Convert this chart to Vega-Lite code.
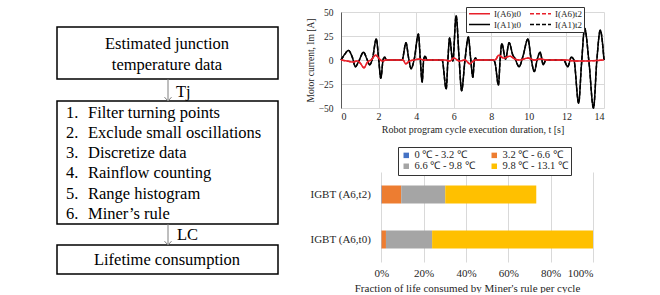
{
  "$schema": "https://vega.github.io/schema/vega-lite/v6.json",
  "background": "white",
  "padding": {"left": 0, "top": 6, "right": 0, "bottom": 0},
  "config": {
    "font": "Liberation Serif",
    "view": {"stroke": null},
    "text": {"font": "Liberation Serif"},
    "axis": {"labelColor": "#262626", "titleColor": "#262626", "titleFontWeight": "normal", "gridColor": "#d9d9d9", "ticks": false, "labelFont": "Liberation Serif", "titleFont": "Liberation Serif"},
    "legend": {"labelColor": "#262626", "labelFont": "Liberation Serif"}
  },
  "resolve": {"scale": {"color": "independent", "strokeDash": "independent", "x": "independent", "y": "independent"}, "legend": {"color": "independent", "strokeDash": "independent"}},
  "datasets": {
    "boxes": [
      {"x1": 57, "x2": 278, "y1": 21, "y2": 73},
      {"x1": 57, "x2": 278, "y1": 95, "y2": 218},
      {"x1": 57, "x2": 278, "y1": 239, "y2": 268}
    ],
    "centerText": [
      {"x": 167, "y": 38, "text": "Estimated junction"},
      {"x": 167, "y": 59, "text": "temperature data"},
      {"x": 167, "y": 254, "text": "Lifetime consumption"}
    ],
    "leftText": [
      {"x": 66, "y": 107, "text": "1."}, {"x": 88, "y": 107, "text": "Filter turning points"},
      {"x": 66, "y": 127, "text": "2."}, {"x": 88, "y": 127, "text": "Exclude small oscillations"},
      {"x": 66, "y": 147, "text": "3."}, {"x": 88, "y": 147, "text": "Discretize data"},
      {"x": 66, "y": 167, "text": "4."}, {"x": 88, "y": 167, "text": "Rainflow counting"},
      {"x": 66, "y": 188, "text": "5."}, {"x": 88, "y": 188, "text": "Range histogram"},
      {"x": 66, "y": 208, "text": "6."}, {"x": 88, "y": 208, "text": "Miner’s rule"},
      {"x": 176, "y": 86, "text": "Tj"},
      {"x": 177, "y": 229, "text": "LC"}
    ],
    "arrows": [
      {"x": 168, "y1": 73, "y2": 95},
      {"x": 168, "y1": 218, "y2": 239}
    ],
    "a1": [
      {"t": 0, "I(A1)t0": 0, "I(A1)t2": 0}, {"t": 0.2, "I(A1)t0": 6, "I(A1)t2": 6}, {"t": 0.4, "I(A1)t0": 10, "I(A1)t2": 10},
      {"t": 0.6, "I(A1)t0": 3, "I(A1)t2": 3}, {"t": 0.77, "I(A1)t0": -7, "I(A1)t2": -7}, {"t": 0.95, "I(A1)t0": -1, "I(A1)t2": -1},
      {"t": 1.2, "I(A1)t0": 8, "I(A1)t2": 8}, {"t": 1.38, "I(A1)t0": 1, "I(A1)t2": 1}, {"t": 1.53, "I(A1)t0": -5, "I(A1)t2": -5},
      {"t": 1.68, "I(A1)t0": 2, "I(A1)t2": 2}, {"t": 1.88, "I(A1)t0": 22, "I(A1)t2": 22}, {"t": 2.0, "I(A1)t0": 2, "I(A1)t2": 2},
      {"t": 2.12, "I(A1)t0": -19, "I(A1)t2": -19}, {"t": 2.24, "I(A1)t0": 0, "I(A1)t2": 0}, {"t": 2.32, "I(A1)t0": 3, "I(A1)t2": 3},
      {"t": 2.42, "I(A1)t0": 0, "I(A1)t2": 0}, {"t": 3.25, "I(A1)t0": 0, "I(A1)t2": 0}, {"t": 3.46, "I(A1)t0": 18, "I(A1)t2": 18},
      {"t": 3.6, "I(A1)t0": 2, "I(A1)t2": 2}, {"t": 3.73, "I(A1)t0": -9, "I(A1)t2": -9}, {"t": 3.9, "I(A1)t0": 1, "I(A1)t2": 1},
      {"t": 4.12, "I(A1)t0": 27, "I(A1)t2": 27}, {"t": 4.22, "I(A1)t0": 1, "I(A1)t2": 1}, {"t": 4.32, "I(A1)t0": -23, "I(A1)t2": -23},
      {"t": 4.4, "I(A1)t0": 0, "I(A1)t2": 0}, {"t": 4.47, "I(A1)t0": 4, "I(A1)t2": 4}, {"t": 4.58, "I(A1)t0": 0, "I(A1)t2": 0},
      {"t": 5.38, "I(A1)t0": 0, "I(A1)t2": 0}, {"t": 5.6, "I(A1)t0": -30, "I(A1)t2": -30}, {"t": 5.69, "I(A1)t0": 0, "I(A1)t2": 0},
      {"t": 5.78, "I(A1)t0": 23, "I(A1)t2": 23}, {"t": 5.95, "I(A1)t0": -1, "I(A1)t2": -1}, {"t": 6.13, "I(A1)t0": 46, "I(A1)t2": 46},
      {"t": 6.28, "I(A1)t0": 4, "I(A1)t2": 4}, {"t": 6.42, "I(A1)t0": -32, "I(A1)t2": -32}, {"t": 6.6, "I(A1)t0": 0, "I(A1)t2": 0},
      {"t": 6.78, "I(A1)t0": 24, "I(A1)t2": 24}, {"t": 6.9, "I(A1)t0": 2, "I(A1)t2": 2}, {"t": 7.02, "I(A1)t0": -18, "I(A1)t2": -18},
      {"t": 7.1, "I(A1)t0": 0, "I(A1)t2": 0}, {"t": 7.16, "I(A1)t0": 2, "I(A1)t2": 2}, {"t": 7.25, "I(A1)t0": 0, "I(A1)t2": 0},
      {"t": 8.1, "I(A1)t0": 0, "I(A1)t2": 0}, {"t": 8.2, "I(A1)t0": -3, "I(A1)t2": -3}, {"t": 8.38, "I(A1)t0": -26, "I(A1)t2": -26},
      {"t": 8.47, "I(A1)t0": 0, "I(A1)t2": 0}, {"t": 8.56, "I(A1)t0": 17, "I(A1)t2": 17}, {"t": 8.76, "I(A1)t0": 1, "I(A1)t2": 1},
      {"t": 8.95, "I(A1)t0": 18, "I(A1)t2": 18}, {"t": 9.15, "I(A1)t0": 5, "I(A1)t2": 5}, {"t": 9.25, "I(A1)t0": 2, "I(A1)t2": 2},
      {"t": 9.48, "I(A1)t0": -7, "I(A1)t2": -7}, {"t": 9.7, "I(A1)t0": 5, "I(A1)t2": 5}, {"t": 9.95, "I(A1)t0": 22, "I(A1)t2": 22},
      {"t": 10.1, "I(A1)t0": 4, "I(A1)t2": 4}, {"t": 10.29, "I(A1)t0": -12, "I(A1)t2": -12}, {"t": 10.45, "I(A1)t0": 1, "I(A1)t2": 1},
      {"t": 10.6, "I(A1)t0": 8, "I(A1)t2": 8}, {"t": 10.77, "I(A1)t0": -5, "I(A1)t2": -5}, {"t": 10.9, "I(A1)t0": 0, "I(A1)t2": 0},
      {"t": 11.85, "I(A1)t0": 0, "I(A1)t2": 0}, {"t": 12.07, "I(A1)t0": -7, "I(A1)t2": -7}, {"t": 12.26, "I(A1)t0": 3, "I(A1)t2": 3},
      {"t": 12.4, "I(A1)t0": 0, "I(A1)t2": 0}, {"t": 12.65, "I(A1)t0": -45, "I(A1)t2": -45}, {"t": 12.8, "I(A1)t0": -5, "I(A1)t2": -5},
      {"t": 12.97, "I(A1)t0": 33, "I(A1)t2": 33}, {"t": 13.2, "I(A1)t0": -2, "I(A1)t2": -2}, {"t": 13.44, "I(A1)t0": -50, "I(A1)t2": -50},
      {"t": 13.62, "I(A1)t0": 0, "I(A1)t2": 0}, {"t": 13.8, "I(A1)t0": 31, "I(A1)t2": 31}, {"t": 14, "I(A1)t0": 0, "I(A1)t2": 0}
    ],
    "a6": [
      {"t": 0, "I(A6)t0": 0, "I(A6)t2": 0}, {"t": 0.3, "I(A6)t0": -1, "I(A6)t2": -1}, {"t": 0.6, "I(A6)t0": -2, "I(A6)t2": -2},
      {"t": 0.9, "I(A6)t0": -1, "I(A6)t2": -1}, {"t": 1.05, "I(A6)t0": -4, "I(A6)t2": -4}, {"t": 1.22, "I(A6)t0": -8, "I(A6)t2": -8},
      {"t": 1.42, "I(A6)t0": -2, "I(A6)t2": -2}, {"t": 1.6, "I(A6)t0": 0, "I(A6)t2": 0}, {"t": 1.85, "I(A6)t0": 5, "I(A6)t2": 5},
      {"t": 2.05, "I(A6)t0": 1, "I(A6)t2": 1}, {"t": 2.2, "I(A6)t0": -1, "I(A6)t2": -1}, {"t": 2.4, "I(A6)t0": 0, "I(A6)t2": 0},
      {"t": 3.3, "I(A6)t0": 0, "I(A6)t2": 0}, {"t": 3.45, "I(A6)t0": -4, "I(A6)t2": -4}, {"t": 3.65, "I(A6)t0": -1, "I(A6)t2": -1},
      {"t": 3.9, "I(A6)t0": 0, "I(A6)t2": 0}, {"t": 4.2, "I(A6)t0": 1, "I(A6)t2": 1}, {"t": 4.4, "I(A6)t0": 0, "I(A6)t2": 0},
      {"t": 5.5, "I(A6)t0": 0, "I(A6)t2": 0}, {"t": 5.8, "I(A6)t0": -1, "I(A6)t2": -1}, {"t": 6.0, "I(A6)t0": 2, "I(A6)t2": 2},
      {"t": 6.3, "I(A6)t0": -1, "I(A6)t2": -1}, {"t": 6.6, "I(A6)t0": 0, "I(A6)t2": 0}, {"t": 6.85, "I(A6)t0": -4, "I(A6)t2": -4},
      {"t": 7.05, "I(A6)t0": -1, "I(A6)t2": -1}, {"t": 7.2, "I(A6)t0": 0, "I(A6)t2": 0}, {"t": 8.2, "I(A6)t0": 0, "I(A6)t2": 0},
      {"t": 8.4, "I(A6)t0": 5, "I(A6)t2": 5}, {"t": 8.65, "I(A6)t0": 2, "I(A6)t2": 2}, {"t": 9.0, "I(A6)t0": 4, "I(A6)t2": 4},
      {"t": 9.25, "I(A6)t0": 1, "I(A6)t2": 1}, {"t": 9.5, "I(A6)t0": 0, "I(A6)t2": 0}, {"t": 9.95, "I(A6)t0": 2, "I(A6)t2": 2},
      {"t": 10.3, "I(A6)t0": 0, "I(A6)t2": 0}, {"t": 10.6, "I(A6)t0": 1, "I(A6)t2": 1}, {"t": 11, "I(A6)t0": 0, "I(A6)t2": 0},
      {"t": 12, "I(A6)t0": 0, "I(A6)t2": 0}, {"t": 12.4, "I(A6)t0": -1, "I(A6)t2": -1}, {"t": 13, "I(A6)t0": -1, "I(A6)t2": -1},
      {"t": 14, "I(A6)t0": 0, "I(A6)t2": 0}
    ],
    "bars": [
      {"device": "IGBT (A6,t2)", "range": "0 ℃ - 3.2 ℃", "frac": 0.2},
      {"device": "IGBT (A6,t2)", "range": "3.2 ℃ - 6.6 ℃", "frac": 9.2},
      {"device": "IGBT (A6,t2)", "range": "6.6 ℃ - 9.8 ℃", "frac": 20.8},
      {"device": "IGBT (A6,t2)", "range": "9.8 ℃ - 13.1 ℃", "frac": 43.0},
      {"device": "IGBT (A6,t0)", "range": "0 ℃ - 3.2 ℃", "frac": 0.1},
      {"device": "IGBT (A6,t0)", "range": "3.2 ℃ - 6.6 ℃", "frac": 2.1},
      {"device": "IGBT (A6,t0)", "range": "6.6 ℃ - 9.8 ℃", "frac": 21.8},
      {"device": "IGBT (A6,t0)", "range": "9.8 ℃ - 13.1 ℃", "frac": 76.0}
    ]
  },
  "spacing": 8,
  "hconcat": [
    {
      "width": 297,
      "height": 270,
      "layer": [
        {
          "data": {"name": "boxes"},
          "mark": {"type": "rect", "fill": "white", "stroke": "black", "strokeWidth": 1.5},
          "encoding": {
            "x": {"field": "x1", "type": "quantitative", "scale": {"domain": [0, 297], "nice": false, "zero": false}, "axis": null},
            "x2": {"field": "x2"},
            "y": {"field": "y1", "type": "quantitative", "scale": {"domain": [6, 276], "nice": false, "zero": false, "reverse": true}, "axis": null},
            "y2": {"field": "y2"}
          }
        },
        {
          "data": {"name": "arrows"},
          "mark": {"type": "rule", "stroke": "#7f7f7f", "strokeWidth": 1},
          "encoding": {
            "x": {"field": "x", "type": "quantitative"},
            "y": {"field": "y1", "type": "quantitative"},
            "y2": {"field": "y2"}
          }
        },
        {
          "data": {"name": "arrows"},
          "mark": {"type": "point", "shape": "M-1,-1.1L0,0L1,-1.1", "filled": false, "stroke": "#7f7f7f", "strokeWidth": 1, "size": 49, "opacity": 1},
          "encoding": {
            "x": {"field": "x", "type": "quantitative"},
            "y": {"field": "y2", "type": "quantitative"}
          }
        },
        {
          "data": {"name": "centerText"},
          "mark": {"type": "text", "align": "center", "baseline": "middle", "fontSize": 16.5, "color": "black", "font": "Liberation Serif"},
          "encoding": {
            "x": {"field": "x", "type": "quantitative"},
            "y": {"field": "y", "type": "quantitative"},
            "text": {"field": "text"}
          }
        },
        {
          "data": {"name": "leftText"},
          "mark": {"type": "text", "align": "left", "baseline": "middle", "fontSize": 16.5, "color": "black", "font": "Liberation Serif"},
          "encoding": {
            "x": {"field": "x", "type": "quantitative"},
            "y": {"field": "y", "type": "quantitative"},
            "text": {"field": "text"}
          }
        }
      ]
    },
    {
      "spacing": 12,
      "resolve": {"scale": {"color": "independent", "strokeDash": "independent", "x": "independent", "y": "independent"}, "legend": {"color": "independent", "strokeDash": "independent"}},
      "vconcat": [
        {
          "width": 263,
          "height": 96,
          "encoding": {
            "x": {"field": "t", "type": "quantitative", "scale": {"domain": [0, 14], "nice": false},
              "axis": {"values": [0, 2, 4, 6, 8, 10, 12, 14], "title": "Robot program cycle execution duration, t [s]", "grid": true, "domain": false, "labelFontSize": 10, "titleFontSize": 10, "labelPadding": 3, "titlePadding": 3}},
            "y": {"field": "im", "type": "quantitative", "scale": {"domain": [-50, 50], "nice": false},
              "axis": {"values": [-50, -25, 0, 25, 50], "title": "Motor current, Im [A]", "grid": true, "domain": true, "domainColor": "#595959", "labelFontSize": 9.5, "titleFontSize": 9.5, "labelPadding": 8, "titlePadding": 3}},
            "color": {"field": "series", "type": "nominal",
              "scale": {"domain": ["I(A6)t0", "I(A6)t2", "I(A1)t0", "I(A1)t2"], "range": ["#e8202a", "#e8202a", "#000000", "#000000"]},
              "legend": {"title": null, "orient": "none", "legendX": 125, "legendY": -5, "direction": "horizontal", "columns": 2, "symbolType": "M-1,0L5,0", "symbolSize": 49, "symbolStrokeWidth": 1.5, "labelFontSize": 9, "strokeColor": "#333333", "fillColor": "white", "padding": 2, "rowPadding": 1, "columnPadding": 6, "labelOffset": 17}},
            "strokeDash": {"field": "series", "type": "nominal",
              "scale": {"domain": ["I(A6)t0", "I(A6)t2", "I(A1)t0", "I(A1)t2"], "range": [[1, 0], [4, 2], [1, 0], [4, 2]]},
              "legend": {"title": null, "orient": "none", "legendX": 125, "legendY": -5, "direction": "horizontal", "columns": 2, "symbolType": "M-1,0L5,0", "symbolSize": 49, "symbolStrokeWidth": 1.5, "labelFontSize": 9, "strokeColor": "#333333", "fillColor": "white", "padding": 2, "rowPadding": 1, "columnPadding": 6, "labelOffset": 17}}
          },
          "layer": [
            {
              "data": {"name": "a1"},
              "transform": [{"fold": ["I(A1)t0", "I(A1)t2"], "as": ["series", "im"]}],
              "mark": {"type": "line", "strokeWidth": 1.5, "interpolate": "monotone"}
            },
            {
              "data": {"name": "a6"},
              "transform": [{"fold": ["I(A6)t0", "I(A6)t2"], "as": ["series", "im"]}],
              "mark": {"type": "line", "strokeWidth": 1.5, "interpolate": "monotone"}
            }
          ]
        },
        {
          "width": 252,
          "height": 90,
          "data": {"name": "bars"},
          "mark": {"type": "bar"},
          "encoding": {
            "y": {"field": "device", "type": "nominal", "sort": ["IGBT (A6,t2)", "IGBT (A6,t0)"],
              "scale": {"paddingInner": 0.6, "paddingOuter": 0.3},
              "axis": {"title": null, "domain": false, "ticks": false, "labelFontSize": 11, "labelPadding": 11, "offset": -40.3}},
            "x": {"field": "frac", "type": "quantitative", "stack": "zero", "scale": {"domain": [-19.04, 100], "nice": false, "zero": false},
              "axis": {"values": [0, 20, 40, 60, 80, 100], "labelExpr": "datum.value + '%'", "grid": true, "domain": false, "title": "Fraction of life consumed by Miner's rule per cycle", "labelFontSize": 11, "titleFontSize": 11, "labelPadding": 5, "titlePadding": 4}},
            "color": {"field": "range", "type": "nominal",
              "scale": {"domain": ["0 ℃ - 3.2 ℃", "3.2 ℃ - 6.6 ℃", "6.6 ℃ - 9.8 ℃", "9.8 ℃ - 13.1 ℃"], "range": ["#4472C4", "#ED7D31", "#A5A5A5", "#FFC000"]},
              "legend": {"title": null, "orient": "none", "legendX": 57, "legendY": -25, "direction": "horizontal", "columns": 2, "symbolType": "square", "symbolSize": 30, "symbolStrokeWidth": 0, "labelFontSize": 10.5, "strokeColor": "#333333", "fillColor": "white", "padding": 3, "rowPadding": 0, "columnPadding": 14, "labelOffset": 3}}
          }
        }
      ]
    }
  ]
}
